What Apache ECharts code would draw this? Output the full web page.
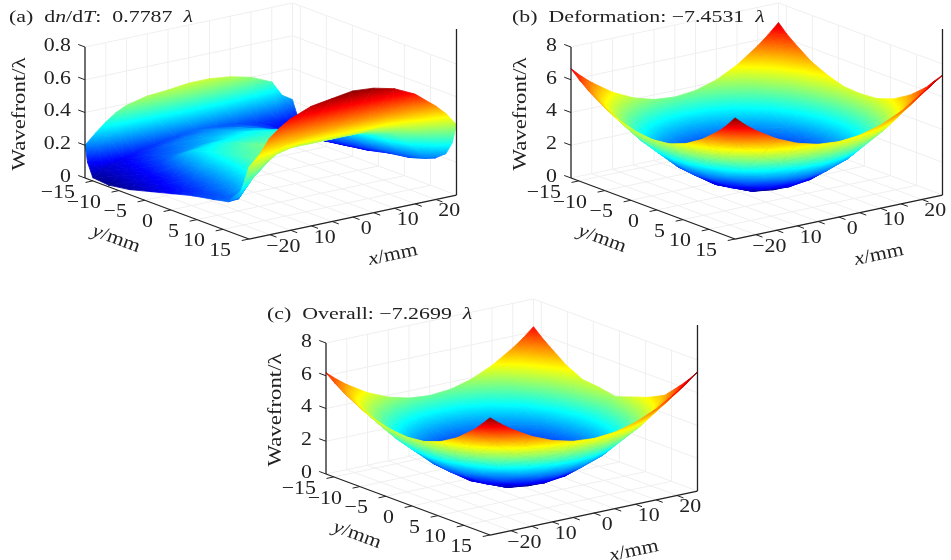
<!DOCTYPE html>
<html>
<head>
<meta charset="utf-8">
<style>
html, body { margin: 0; padding: 0; background: #fff; }
#main { width: 951px; height: 560px; }
</style>
<script src="https://cdn.jsdelivr.net/npm/echarts@6/dist/echarts.min.js"></script>
</head>
<body>
<div id="main"></div>
<script>
// tick values and labels
var xTicks = [-20, -15, -10, -5, 0, 5, 10, 15, 20];
var xTickLabels = { '-20': '\u221220', '-10': '10', '0': '0', '10': '10', '20': '20' };
var yTicks = [-15, -10, -5, 0, 5, 10, 15];
var yTickLabels = ['\u221215', '\u221210', '\u22125', '0', '5', '10', '15'];
var zTicksA = [0, 0.2, 0.4, 0.6, 0.8];
var zTickLabelsA = ['0', '0.2', '0.4', '0.6', '0.8'];
var zTicksB = [0, 2, 4, 6, 8];
var zTickLabelsB = ['0', '2', '4', '6', '8'];

// panel (a) surface, one row per y
var xGridA = [-25, -22.5, -20, -17.5, -15, -10, -5, 0, 5, 10, 15, 20, 22.5, 25];
var yGridA = [-16.5, -16, -15, -12, -8, -4, 0, 4, 8, 11, 13, 14.2, 15];
var zSurfaceA = [
    [.20, .26, .315, .36, .39, .42, .43, .445, .445, .43, .40, .345, .25, .21],
    [.10, .19, .23, .27, .29, .32, .34, .36, .36, .34, .31, .27, .19, .16],
    [.02, .05, .07, .09, .11, .14, .16, .18, .17, .16, .14, .12, .09, .08],
    [.01, .05, .08, .11, .14, .18, .20, .21, .20, .18, .14, .08, .05, .02],
    [.03, .07, .10, .14, .18, .21, .24, .25, .24, .20, .16, .10, .07, .05],
    [.065, .09, .12, .19, .26, .28, .29, .30, .28, .25, .22, .12, .09, .09],
    [.10, .115, .16, .23, .30, .33, .33, .33, .32, .29, .27, .15, .11, .12],
    [.135, .145, .185, .25, .33, .37, .36, .36, .35, .33, .31, .18, .14, .146],
    [.16, .165, .22, .29, .36, .39, .385, .39, .385, .38, .34, .22, .16, .16],
    [.18, .185, .27, .34, .40, .43, .43, .43, .43, .43, .39, .27, .19, .18],
    [.23, .30, .38, .42, .46, .48, .48, .48, .48, .48, .45, .37, .29, .23],
    [.35, .38, .45, .49, .52, .54, .55, .56, .56, .55, .52, .46, .40, .31],
    [.44, .50, .59, .64, .68, .73, .75, .77, .76, .73, .67, .57, .51, .43]
];

// panels (b) and (c) use the same grid
var xGridB = [-25, -22.5, -20, -15, -10, -5, 0, 5, 10, 15, 20, 22.5, 25];
var yGridB = [-16.5, -14.925, -13.35, -10.2, -7.05, -3.9, -0.75, 2.4, 5.55, 8.7, 11.85, 13.425, 15];
var zSurfaceB = [
    [6.67, 6.08, 5.56, 4.70, 4.09, 3.72, 3.60, 3.73, 4.11, 4.75, 5.66, 6.20, 6.81],
    [6.20, 5.58, 5.02, 4.10, 3.44, 3.05, 2.92, 3.06, 3.47, 4.15, 5.12, 5.70, 6.30],
    [5.78, 5.11, 4.53, 3.55, 2.85, 2.44, 2.30, 2.45, 2.88, 3.61, 4.63, 5.25, 5.90],
    [5.09, 4.37, 3.73, 2.66, 1.90, 1.45, 1.30, 1.46, 1.93, 2.73, 3.85, 4.51, 5.17],
    [4.60, 3.83, 3.15, 2.02, 1.22, .74, .58, .75, 1.25, 2.09, 3.28, 3.99, 4.70],
    [4.30, 3.50, 2.80, 1.63, .80, .31, .14, .32, .83, 1.70, 2.93, 3.66, 4.38],
    [4.20, 3.40, 2.69, 1.51, .67, .17, 0, .18, .70, 1.58, 2.82, 3.56, 4.32],
    [4.32, 3.53, 2.83, 1.67, .84, .35, .18, .36, .87, 1.74, 2.96, 3.67, 4.40],
    [4.71, 3.95, 3.28, 2.17, 1.37, .90, .74, .91, 1.40, 2.23, 3.40, 4.06, 4.75],
    [5.34, 4.64, 4.02, 2.98, 2.25, 1.81, 1.66, 1.82, 2.27, 3.04, 4.13, 4.72, 5.35],
    [6.21, 5.59, 5.04, 4.12, 3.46, 3.07, 2.94, 3.08, 3.49, 4.17, 5.14, 5.65, 6.20],
    [6.75, 6.18, 5.67, 4.82, 4.21, 3.85, 3.73, 3.86, 4.23, 4.87, 5.76, 6.25, 6.78],
    [7.40, 6.83, 6.36, 5.59, 5.04, 4.71, 4.60, 4.72, 5.06, 5.63, 6.45, 6.88, 7.32]
];
var zSurfaceC = [
    [6.18, 5.66, 5.19, 4.43, 3.89, 3.56, 3.45, 3.56, 3.91, 4.48, 5.28, 5.76, 6.31],
    [5.78, 5.21, 4.70, 3.87, 3.27, 2.91, 2.79, 2.91, 3.29, 3.92, 4.79, 5.33, 5.85],
    [5.43, 4.82, 4.27, 3.37, 2.73, 2.34, 2.21, 2.34, 2.75, 3.43, 4.37, 4.95, 5.45],
    [4.85, 4.16, 3.55, 2.54, 1.82, 1.38, 1.24, 1.39, 1.85, 2.60, 3.66, 4.20, 4.70],
    [4.43, 3.69, 3.03, 1.95, 1.18, .70, .55, .71, 1.20, 2.02, 3.15, 3.75, 4.20],
    [4.18, 3.41, 2.72, 1.60, .79, .30, .14, .31, .82, 1.67, 2.85, 3.50, 4.10],
    [4.10, 3.32, 2.62, 1.48, .66, .16, 0, .17, .69, 1.55, 2.75, 3.35, 3.90],
    [4.22, 3.45, 2.76, 1.64, .83, .34, .18, .35, .86, 1.71, 2.89, 3.55, 4.25],
    [4.59, 3.86, 3.20, 2.12, 1.35, .88, .73, .89, 1.38, 2.19, 3.32, 3.95, 4.60],
    [5.20, 4.53, 3.92, 2.93, 2.21, 1.78, 1.64, 1.79, 2.24, 2.99, 4.03, 4.55, 5.10],
    [6.05, 5.46, 4.92, 4.05, 3.42, 3.03, 2.91, 3.04, 3.44, 4.10, 5.02, 5.55, 6.10],
    [6.58, 6.03, 5.54, 4.73, 4.16, 3.80, 3.69, 3.81, 4.18, 4.78, 5.63, 6.15, 6.65],
    [7.16, 6.66, 6.22, 5.49, 4.97, 4.65, 4.55, 4.66, 4.99, 5.54, 6.30, 6.73, 7.27]
];

var panels = [
    { title: '(a)  d{i|n}/d{i|T}:  0.7787  {i|\u03bb}', titleX: 9, titleY: 17, ox: 85, oy: 178, xs: xGridA, ys: yGridA, zs: zSurfaceA,
      zMax: 0.7787, zTicks: zTicksA, zLabels: zTickLabelsA, zTop: 0.8, labelX: 20, labelY: 114 },
    { title: '(b)  Deformation: \u22127.4531  {i|\u03bb}', titleX: 512, titleY: 17, ox: 571, oy: 178, xs: xGridB, ys: yGridB, zs: zSurfaceB,
      zMax: 7.4531, zTicks: zTicksB, zLabels: zTickLabelsB, zTop: 8, labelX: 521, labelY: 114 },
    { title: '(c)  Overall: \u22127.2699  {i|\u03bb}', titleX: 267, titleY: 314, ox: 326, oy: 474, xs: xGridB, ys: yGridB, zs: zSurfaceC,
      zMax: 7.2699, zTicks: zTicksB, zLabels: zTickLabelsB, zTop: 8, labelX: 276, labelY: 410 }
];

var X0 = -25, X1 = 25, Y0 = -16.5, Y1 = 15;
var fontName = '"Liberation Serif", serif';
var jetStops = [
    [0, 0, 0, 128], [0.125, 0, 0, 255], [0.375, 0, 255, 255],
    [0.625, 255, 255, 0], [0.875, 255, 0, 0], [1, 128, 0, 0]
];

function jet(t) {
    t = Math.max(0, Math.min(1, t));
    for (var i = 1; i < jetStops.length; i++) {
        if (t <= jetStops[i][0]) {
            var a = jetStops[i - 1], b = jetStops[i];
            var k = (t - a[0]) / (b[0] - a[0]);
            return 'rgb(' + Math.round(a[1] + (b[1] - a[1]) * k) + ',' +
                Math.round(a[2] + (b[2] - a[2]) * k) + ',' +
                Math.round(a[3] + (b[3] - a[3]) * k) + ')';
        }
    }
    return 'rgb(128,0,0)';
}

// orthographic view used by all three boxes, result is in the panel's axis units
function project(p, x, y, z) {
    return [
        (x - X0) * 4.15 + (y - Y0) * 5.206,
        -(x - X0) * 0.88 + (y - Y0) * 1.937 - z * 131 / p.zTop
    ];
}

// triangle filled with a jet gradient that follows the plane through its three corners
function triangle(pts, vals, zMax) {
    var lo = 0, hi = 0;
    for (var i = 1; i < 3; i++) {
        if (vals[i] < vals[lo]) lo = i;
        if (vals[i] > vals[hi]) hi = i;
    }
    var zLo = vals[lo], zHi = vals[hi], fill;
    var ax = pts[1][0] - pts[0][0], ay = pts[1][1] - pts[0][1];
    var bx = pts[2][0] - pts[0][0], by = pts[2][1] - pts[0][1];
    var det = ax * by - ay * bx;
    if (Math.abs(det) < 0.05 || zHi - zLo < 1e-6) {
        fill = jet((zLo + zHi) / 2 / zMax);
    } else {
        var dz1 = vals[1] - vals[0], dz2 = vals[2] - vals[0];
        var gx = (dz1 * by - dz2 * ay) / det;
        var gy = (dz2 * ax - dz1 * bx) / det;
        var g2 = gx * gx + gy * gy;
        var span = (zHi - zLo) / g2;
        var stops = [{ offset: 0, color: jet(zLo / zMax) }];
        jetStops.forEach(function (s) {
            var v = s[0] * zMax;
            if (v > zLo && v < zHi) stops.push({ offset: (v - zLo) / (zHi - zLo), color: jet(s[0]) });
        });
        stops.push({ offset: 1, color: jet(zHi / zMax) });
        fill = new echarts.graphic.LinearGradient(
            pts[lo][0], pts[lo][1], pts[lo][0] + gx * span, pts[lo][1] + gy * span, stops, true);
    }
    return { type: 'polygon', shape: { points: pts }, style: { fill: fill, stroke: fill, lineWidth: 0.8, lineJoin: 'round' } };
}

function textEl(str, x, y, size, align, rotation, rich, stretch) {
    var el = {
        type: 'text', x: x, y: y, rotation: rotation || 0, scaleX: stretch || 1.15,
        style: { text: str, fontFamily: fontName, fontSize: size, fill: '#222', align: align, verticalAlign: 'middle' }
    };
    if (rich) {
        el.style.rich = { i: { fontFamily: fontName, fontSize: size, fontStyle: 'italic', fill: '#222' } };
    }
    return el;
}

function lineEl(a, b, color, width) {
    return { type: 'line', shape: { x1: a[0], y1: a[1], x2: b[0], y2: b[1] }, style: { stroke: color, lineWidth: width } };
}

function renderBack(p, api) {
    var c = function (x, y, z) { return api.coord(project(p, x, y, z)); };
    var color = '#efefef', out = [];
    xTicks.forEach(function (x) {
        out.push(lineEl(c(x, Y0, 0), c(x, Y1, 0), color, 1));
        out.push(lineEl(c(x, Y0, 0), c(x, Y0, p.zTop), color, 1));
    });
    yTicks.forEach(function (y) {
        out.push(lineEl(c(X0, y, 0), c(X1, y, 0), color, 1));
        out.push(lineEl(c(X1, y, 0), c(X1, y, p.zTop), color, 1));
    });
    p.zTicks.forEach(function (z) {
        out.push(lineEl(c(X0, Y0, z), c(X1, Y0, z), color, 1));
        out.push(lineEl(c(X1, Y0, z), c(X1, Y1, z), color, 1));
    });
    out.push(lineEl(c(X1, Y0, 0), c(X1, Y0, p.zTop), color, 1));
    return { type: 'group', children: out };
}

function renderCell(p, params, api) {
    var i = api.value(0), j = api.value(1);
    var c = function (a, b) { return api.coord(project(p, p.xs[a], p.ys[b], p.zs[b][a])); };
    var v = function (a, b) { return p.zs[b][a]; };
    return {
        type: 'group',
        children: [
            triangle([c(i + 1, j), c(i, j), c(i + 1, j + 1)], [v(i + 1, j), v(i, j), v(i + 1, j + 1)], p.zMax),
            triangle([c(i, j), c(i, j + 1), c(i + 1, j + 1)], [v(i, j), v(i, j + 1), v(i + 1, j + 1)], p.zMax)
        ]
    };
}

function renderFront(p, api) {
    var c = function (x, y, z) { return api.coord(project(p, x, y, z)); };
    var ink = '#222', out = [];
    out.push(lineEl(c(X0, Y0, 0), c(X0, Y1, 0), ink, 1.3));
    out.push(lineEl(c(X0, Y1, 0), c(X1, Y1, 0), ink, 1.3));
    out.push(lineEl(c(X0, Y0, 0), c(X0, Y0, p.zTop), ink, 1.3));
    // the right upright runs past the top of the box in the reference
    out.push(lineEl(c(X1, Y1, 0), c(X1, Y1, p.zTop * 166 / 131), ink, 1.3));

    xTicks.forEach(function (x) {
        var a = c(x, Y1, 0);
        out.push(lineEl(a, c(x, Y1 + 1.3, 0), ink, 1));
        var label = xTickLabels[String(x)];
        if (label) out.push(textEl(label, a[0] + 13.5, a[1] + 12, 19, 'center'));
    });
    yTicks.forEach(function (y, k) {
        var a = c(X0, y, 0);
        out.push(lineEl(a, c(X0 - 1.75, y, 0), ink, 1));
        out.push(textEl(yTickLabels[k], a[0] - 18, a[1] + 12, 19, 'right'));
    });
    p.zTicks.forEach(function (z, k) {
        var a = c(X0, Y0, z);
        out.push(lineEl(a, c(X0, Y0 - 1.3, z), ink, 1));
        out.push(textEl(p.zLabels[k], a[0] - 14, a[1] - 1, 19, 'right'));
    });

    var o = c(X0, Y0, 0);
    out.push(textEl('{i|y}/mm', o[0] + 31, o[1] + 61, 19, 'center', -20 * Math.PI / 180, true));
    out.push(textEl('{i|x}/mm', o[0] + 308, o[1] + 77, 19, 'center', 12 * Math.PI / 180, true));
    out.push(textEl('Wavefront/\u03bb', o[0] - p.ox + p.labelX, o[1] - p.oy + p.labelY, 19, 'center', Math.PI / 2, false, 1.2));
    out.push(textEl(p.title, o[0] - p.ox + p.titleX, o[1] - p.oy + p.titleY, 17.5, 'left', 0, true, 1.25));
    return { type: 'group', children: out };
}

var option = { animation: false, grid: [], xAxis: [], yAxis: [], series: [] };

panels.forEach(function (p, n) {
    // one axis unit is one pixel, the box corner sits at (0, 0); the rects stay inside the canvas
    option.grid.push({ left: p.ox - 80, top: p.oy - 170, width: 455, height: 250 });
    option.xAxis.push({ type: 'value', gridIndex: n, min: -80, max: 375, show: false });
    option.yAxis.push({ type: 'value', gridIndex: n, min: -170, max: 80, inverse: true, show: false });

    var cells = [];
    for (var j = 0; j < p.ys.length - 1; j++) {
        for (var i = p.xs.length - 2; i >= 0; i--) cells.push([i, j]);
    }
    var common = { type: 'custom', xAxisIndex: n, yAxisIndex: n, silent: true, clip: false, encode: { x: 0, y: 1 } };
    option.series.push(Object.assign({}, common, {
        z: 1, data: [[0, 0]],
        renderItem: function (params, api) { return renderBack(p, api); }
    }));
    option.series.push(Object.assign({}, common, {
        z: 2, data: cells,
        renderItem: function (params, api) { return renderCell(p, params, api); }
    }));
    option.series.push(Object.assign({}, common, {
        z: 3, data: [[0, 0]],
        renderItem: function (params, api) { return renderFront(p, api); }
    }));
});

var chart = echarts.init(document.getElementById('main'));
chart.setOption(option);
</script>
</body>
</html>
